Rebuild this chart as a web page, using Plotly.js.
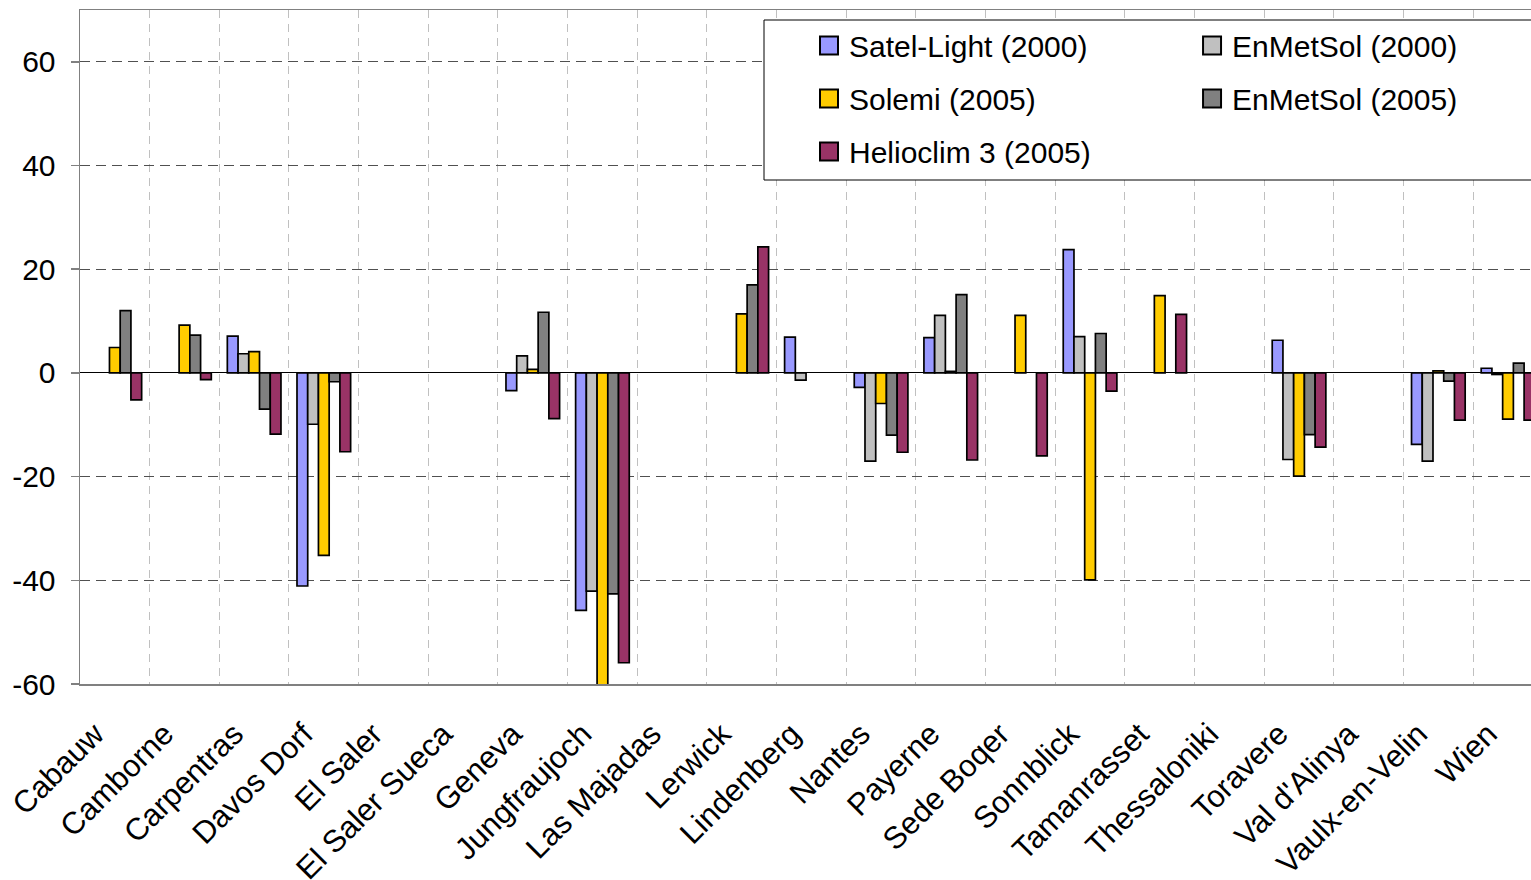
<!DOCTYPE html>
<html>
<head>
<meta charset="utf-8">
<script src="https://cdn.plot.ly/plotly-3.0.1.min.js"></script>
<style>html,body{margin:0;padding:0;background:#fff;}#chart{width:1531px;height:880px;}</style>
</head>
<body>
<div id="chart"></div>
<script>
const categories = ['Cabauw','Camborne','Carpentras','Davos Dorf','El Saler','El Saler Sueca','Geneva','Jungfraujoch','Las Majadas','Lerwick','Lindenberg','Nantes','Payerne','Sede Boqer','Sonnblick','Tamanrasset','Thessaloniki','Toravere',"Val d'Alinya",'Vaulx-en-Velin','Wien'];
const satelLight2000 = [null,null,7.1,-41.1,null,null,-3.4,-45.8,null,null,6.9,-2.8,6.8,null,23.8,null,null,6.3,null,-13.8,0.9];
const enMetSol2000   = [null,null,3.7,-9.9,null,null,3.3,-42.1,null,null,-1.4,-17.0,11.1,null,7.0,null,null,-16.7,null,-17.0,-0.3];
const solemi2005     = [4.9,9.2,4.1,-35.2,null,null,0.7,-61.5,null,11.4,null,-5.9,0.3,11.1,-39.9,14.9,null,-19.9,null,0.4,-8.9];
const enMetSol2005   = [12.0,7.3,-7.0,-1.7,null,null,11.7,-42.6,null,17.0,null,-12.0,15.1,null,7.6,null,null,-11.9,null,-1.6,1.9];
const helioclim2005  = [-5.2,-1.3,-11.8,-15.2,null,null,-8.8,-55.9,null,24.3,null,-15.3,-16.8,-16.0,-3.5,11.3,null,-14.3,null,-9.1,-9.1];
const yTicks = [-60,-40,-20,0,20,40,60];

const FONT = 'Liberation Sans, Arial, sans-serif';
function bar(name, y, color, legend, group) {
  return {type:'bar', name:name, x:categories, y:y, legend:legend, legendgroup:group,
    marker:{color:color, line:{color:'#000', width:1.7}}, hoverinfo:'x+y+name'};
}
const data = [
  bar('Satel-Light (2000)', satelLight2000, '#9999FF', 'legend', 'a'),
  bar('EnMetSol (2000)', enMetSol2000, '#C0C0C0', 'legend2', 'b'),
  bar('Solemi (2005)', solemi2005, '#FFCC00', 'legend', 'c'),
  bar('EnMetSol (2005)', enMetSol2005, '#808080', 'legend2', 'd'),
  bar('Helioclim 3 (2005)', helioclim2005, '#993366', 'legend', 'e')
];
const legendCommon = {bgcolor:'rgba(0,0,0,0)', borderwidth:0, font:{family:FONT, size:30, color:'#000'},
  orientation:'v', traceorder:'grouped', tracegroupgap:11, yanchor:'top', xanchor:'left', itemclick:false, itemdoubleclick:false};
const layout = {
  width:1531, height:880,
  margin:{l:80, r:0, t:10, b:196, pad:0},
  paper_bgcolor:'#fff', plot_bgcolor:'#fff',
  font:{family:FONT, size:30, color:'#000'},
  barmode:'group', bargap:0.23, bargroupgap:0,
  showlegend:true,
  legend:Object.assign({}, legendCommon, {x:0.5024, y:0.986}),
  legend2:Object.assign({}, legendCommon, {x:0.7664, y:0.986}),
  xaxis:{type:'category', range:[-0.5, 20.33], tickson:'boundaries', ticks:'', showgrid:true,
    gridcolor:'#c0c0c0', griddash:'8px,6px', gridwidth:1, showline:true, linecolor:'#808080', linewidth:1.5,
    mirror:true, tickangle:-45, ticklabelstandoff:18, ticklabelshift:-20,
    tickfont:{family:FONT, size:31, color:'#000'}, automargin:false, fixedrange:true},
  xaxis2:{overlaying:'x', anchor:'free', position:60/130, type:'linear', range:[-0.5, 20.33], tick0:-0.5, dtick:1,
    ticks:'outside', ticklen:9, tickcolor:'#000', tickwidth:1, showticklabels:false, showgrid:false, showline:false, zeroline:false, fixedrange:true},
  yaxis:{range:[-60, 70], tickvals:yTicks, ticktext:yTicks.map(String), ticks:'outside', ticklen:8, tickcolor:'#808080',
    tickwidth:1.5, ticklabelstandoff:9, showgrid:true, gridcolor:'#505050', griddash:'10px,6px', gridwidth:1, zeroline:true, zerolinecolor:'#000',
    zerolinewidth:1, showline:true, linecolor:'#808080', linewidth:1.5, mirror:false,
    tickfont:{family:FONT, size:30, color:'#000'}, automargin:false, fixedrange:true},
  shapes:[{type:'rect', xref:'paper', yref:'paper', x0:(764-80)/1451, x1:1.02, y0:1-(180-10)/674, y1:1-(20-10)/674,
    fillcolor:'#fff', line:{color:'#000', width:1}, layer:'above'}]
};
Plotly.newPlot('chart', data, layout, {displayModeBar:false, staticPlot:true}).then(function(gd){
  gd.querySelectorAll('.infolayer .legendpoints path').forEach(function(p){
    p.setAttribute('d','M9,9H-9V-9H9Z');
    p.style.strokeWidth = '2px';
  });
});
</script>
</body>
</html>
